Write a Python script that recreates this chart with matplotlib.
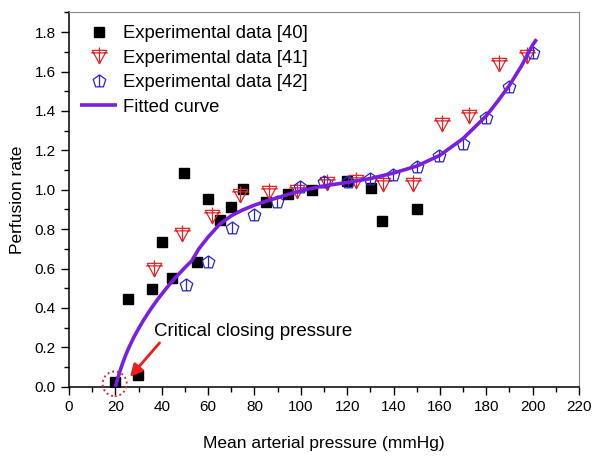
import matplotlib
matplotlib.use("Agg")
import matplotlib.pyplot as plt
from matplotlib.path import Path
from matplotlib.patches import Ellipse
from matplotlib.ticker import MultipleLocator
import math

plt.rcParams['font.family'] = ['Liberation Sans', 'DejaVu Sans']

# Experimental data [40]
x40 = [20, 25.3, 29.6, 35.7, 40.3, 44.6, 49.8, 55.4, 60.1, 65.3, 69.9, 74.9, 84.8, 94.6, 105, 120, 130.1, 134.9, 150]
y40 = [0.024, 0.445, 0.06, 0.495, 0.733, 0.554, 1.087, 0.633, 0.953, 0.845, 0.913, 1.004, 0.936, 0.977, 0.999, 1.046, 1.01, 0.841, 0.902]

# Experimental data [41]
x41 = [36.8, 48.6, 61.5, 73.8, 86.3, 98.2, 111.2, 123.8, 135.3, 148.3, 160.8, 172.6, 185.6, 197.4]
y41 = [0.60, 0.775, 0.868, 0.975, 0.99, 0.994, 1.036, 1.043, 1.027, 1.027, 1.336, 1.373, 1.64, 1.677]

# Experimental data [42]
x42 = [50.3, 60.1, 70.3, 79.8, 89.6, 99.7, 110, 120.5, 129.9, 139.6, 150, 159.8, 170.1, 179.9, 189.9, 200.3]
y42 = [0.516, 0.632, 0.804, 0.872, 0.940, 1.016, 1.041, 1.041, 1.053, 1.075, 1.117, 1.170, 1.233, 1.363, 1.52, 1.696]

# Fitted curve
xfit = [20, 21, 22, 23, 24, 25, 26, 27, 28, 30, 32, 34, 36, 38, 40, 42, 44, 46, 48, 50, 53, 56, 60, 65, 70, 75, 80, 85, 90, 95, 100,
        110, 120, 130, 140, 150, 160, 170, 180, 185, 190, 195, 200, 201.7]
yfit = [0.0, 0.042, 0.08, 0.115, 0.147, 0.176, 0.203, 0.228, 0.252, 0.295, 0.335, 0.372, 0.407, 0.44, 0.47, 0.5, 0.528, 0.555, 0.58, 0.605, 0.64, 0.7, 0.76, 0.825, 0.868, 0.898, 0.922, 0.942, 0.96, 0.978, 0.995,
        1.02, 1.037, 1.057, 1.085, 1.12, 1.175, 1.26, 1.375, 1.45, 1.53, 1.625, 1.735, 1.764]

# Custom markers
tri_verts = [(-1, 0.85), (1, 0.85), (0, -1), (-1, 0.85),
             (0, 1.25), (0, -1),
             (-1.15, 0.5), (1.15, 0.5)]
tri_codes = [Path.MOVETO, Path.LINETO, Path.LINETO, Path.LINETO,
             Path.MOVETO, Path.LINETO,
             Path.MOVETO, Path.LINETO]
tri_marker = Path(tri_verts, tri_codes)

pent = [(math.cos(math.radians(90 + 72 * k)), math.sin(math.radians(90 + 72 * k))) for k in range(5)]
pent_verts = pent + [pent[0], (0, 1), (0, pent[2][1])]
pent_codes = [Path.MOVETO] + [Path.LINETO] * 4 + [Path.LINETO, Path.MOVETO, Path.LINETO]
pent_marker = Path(pent_verts, pent_codes)

fig = plt.figure(figsize=(6.0, 4.61), dpi=100)
ax = fig.add_axes([0.115, 0.161, 0.85, 0.812])

red = '#e02828'
blue = '#2828c8'
purple = '#7a1fe0'

h40, = ax.plot(x40, y40, linestyle='none', marker='s', markersize=7.2,
               color='black', label='Experimental data [40]', zorder=3)
h41, = ax.plot(x41, y41, linestyle='none', marker=tri_marker, markersize=13,
               markerfacecolor='none', markeredgecolor=red, markeredgewidth=0.9,
               label='Experimental data [41]', zorder=3)
h42, = ax.plot(x42, y42, linestyle='none', marker=pent_marker, markersize=9.5,
               markerfacecolor='none', markeredgecolor=blue, markeredgewidth=0.9,
               label='Experimental data [42]', zorder=3)
hfit, = ax.plot(xfit, yfit, color=purple, linewidth=2.6, label='Fitted curve', zorder=4,
                solid_joinstyle='round', solid_capstyle='butt')

ax.set_xlim(0, 220)
ax.set_ylim(0, 1.9)
ax.xaxis.set_major_locator(MultipleLocator(20))
ax.xaxis.set_minor_locator(MultipleLocator(10))
ax.set_yticks([0.0, 0.2, 0.4, 0.6, 0.8, 1.0, 1.2, 1.4, 1.6, 1.8])
ax.yaxis.set_minor_locator(MultipleLocator(0.1))
ax.yaxis.set_major_formatter(plt.FuncFormatter(lambda v, p: f"{v:.1f}"))
ax.tick_params(which='major', direction='out', length=6, width=1, labelsize=11, top=False, right=False)
ax.tick_params(which='minor', direction='out', length=3.5, width=1, top=False, right=False)

for s in ['left', 'bottom']:
    ax.spines[s].set_color('black')
    ax.spines[s].set_linewidth(1.1)
for s in ['top', 'right']:
    ax.spines[s].set_color('#888888')
    ax.spines[s].set_linewidth(0.8)

ax.set_xlabel('Mean arterial pressure (mmHg)', fontsize=12.5, labelpad=16)
ax.set_ylabel('Perfusion rate', fontsize=12.5, labelpad=7)

leg = ax.legend(handles=[h40, h41, h42, hfit], loc='upper left', frameon=False,
                fontsize=13.3, handlelength=2.0, handletextpad=0.3, labelspacing=0.4,
                borderaxespad=0.2, bbox_to_anchor=(0.0, 0.995))

ax.add_patch(Ellipse((19.7, 0.015), 10.4, 0.125, fill=False, edgecolor='#c83232',
                     linestyle=(0, (1, 1.5)), linewidth=1.4, clip_on=False, zorder=5))
ax.annotate('Critical closing pressure', xy=(26.3, 0.05), xytext=(36.7, 0.28),
            fontsize=13.5, va='center', ha='left',
            arrowprops=dict(arrowstyle='-|>', color='#ee1c1c', lw=2,
                            mutation_scale=18, shrinkA=0, shrinkB=0,
                            relpos=(0.04, 0.0)))

fig.savefig('out.png', dpi=100)
